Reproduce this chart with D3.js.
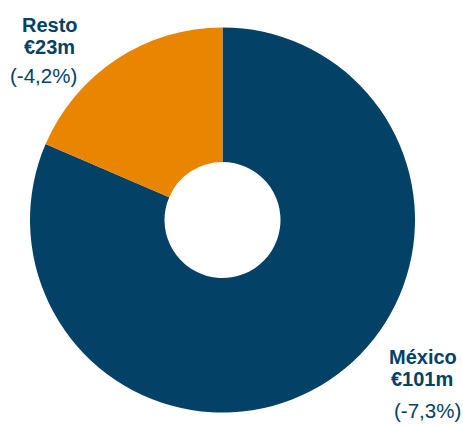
<!DOCTYPE html>
<html>
<head>
<meta charset="utf-8">
<script src="https://cdn.jsdelivr.net/npm/d3@7"></script>
<style>
  body { margin: 0; background: #fff; }
  text { font-family: "Liberation Sans", Arial, sans-serif; fill: #034166; }
</style>
</head>
<body>
<div id="chart"></div>
<script>
const regions = ["México", "Resto"]
const values = [101, 23]
const changes = ["(-7,3%)", "(-4,2%)"]
const colors = ["#034166", "#E98500"]

const width = 463
const height = 426
const cx = 222.5
const cy = 220
const outerR = 192.5
const innerR = 58

const svg = d3.select("#chart")
  .append("svg")
    .attr("width", width)
    .attr("height", height)

const pie = d3.pie().sort(null).value(d => d.value)
const arc = d3.arc().innerRadius(innerR).outerRadius(outerR)

const data = regions.map((r, i) => ({ region: r, value: values[i], change: changes[i] }))

// Slices
svg.append("g")
    .attr("transform", "translate(" + cx + "," + cy + ")")
  .selectAll("path")
  .data(pie(data))
  .enter()
  .append("path")
    .attr("d", arc)
    .attr("fill", (d, i) => colors[i])

// Labels
const labelPos = [
  { x: 389, y: 364 },
  { x: 22, y: 32 }
]
const pctPos = [
  { x: 394, y: 418 },
  { x: 10, y: 83 }
]

data.forEach((d, i) => {
  svg.append("text")
      .text(d.region)
      .attr("x", labelPos[i].x)
      .attr("y", labelPos[i].y)
      .attr("font-size", 20)
      .attr("font-weight", "bold")
  svg.append("text")
      .text("€" + d.value + "m")
      .attr("x", labelPos[i].x + 2)
      .attr("y", labelPos[i].y + 22)
      .attr("font-size", 20)
      .attr("font-weight", "bold")
  svg.append("text")
      .text(d.change)
      .attr("x", pctPos[i].x)
      .attr("y", pctPos[i].y)
      .attr("font-size", 20.5)
})
</script>
</body>
</html>
